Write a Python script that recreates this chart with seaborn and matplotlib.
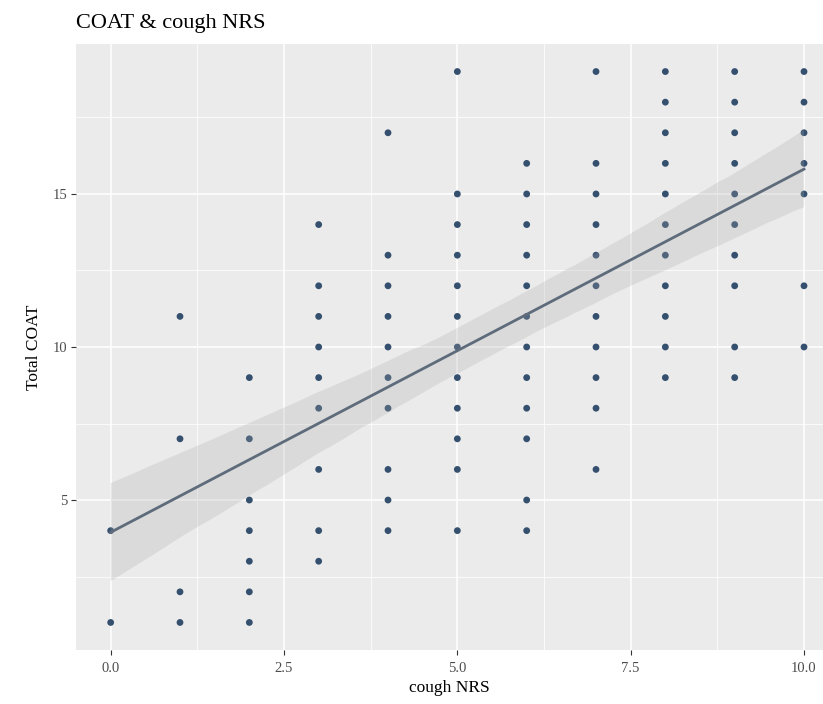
import matplotlib
matplotlib.use("Agg")
import matplotlib.pyplot as plt
import seaborn as sns
import pandas as pd
import numpy as np
from matplotlib.ticker import MultipleLocator

# cough NRS value -> list of Total COAT values observed
nrs_0 = [4, 1]
nrs_1 = [11, 7, 2, 1]
nrs_2 = [9, 7, 5, 4, 3, 2, 1]
nrs_3 = [14, 12, 11, 10, 9, 8, 6, 4, 3]
nrs_4 = [17, 13, 12, 11, 10, 9, 8, 6, 5, 4]
nrs_5 = [19, 15, 14, 13, 12, 11, 10, 9, 8, 7, 6, 4]
nrs_6 = [16, 15, 14, 13, 12, 11, 10, 9, 8, 7, 5, 4]
nrs_7 = [19, 16, 15, 14, 13, 12, 11, 10, 9, 8, 6]
nrs_8 = [19, 18, 17, 16, 15, 14, 13, 12, 11, 10, 9]
nrs_9 = [19, 18, 17, 16, 15, 14, 13, 12, 10, 9]
nrs_10 = [19, 18, 17, 16, 15, 12, 10]

groups = [nrs_0, nrs_1, nrs_2, nrs_3, nrs_4, nrs_5, nrs_6, nrs_7, nrs_8, nrs_9, nrs_10]
xs, ys = [], []
for nrs, vals in enumerate(groups):
    for v in vals:
        xs.append(nrs)
        ys.append(v)
df = pd.DataFrame({"cough NRS": xs, "Total COAT": ys})

x_ticks = [0.0, 2.5, 5.0, 7.5, 10.0]
x_tick_labels = ["0.0", "2.5", "5.0", "7.5", "10.0"]
y_ticks = [5, 10, 15]

W, H = 823, 704
fig = plt.figure(figsize=(W / 100, H / 100), dpi=100)
left, right, top, bottom = 76, 823, 44, 650
ax = fig.add_axes([left / W, 1 - bottom / H, (right - left) / W, (bottom - top) / H])

ax.set_facecolor("#EBEBEB")
for s in ax.spines.values():
    s.set_visible(False)

ax.set_xticks(x_ticks)
ax.set_xticklabels(x_tick_labels)
ax.set_yticks(y_ticks)
ax.xaxis.set_minor_locator(MultipleLocator(1.25))
ax.yaxis.set_minor_locator(MultipleLocator(2.5))
ax.grid(which="major", color="white", linewidth=1.1)
ax.grid(which="minor", color="white", linewidth=0.55)
ax.set_axisbelow(True)

sns.regplot(data=df, x="cough NRS", y="Total COAT", ax=ax, ci=95, seed=1,
            scatter_kws=dict(s=24, color="#34506E", edgecolor="none", alpha=1, zorder=3),
            line_kws=dict(color="#5E6B7B", linewidth=2.0, zorder=4))
# make band light grey
for coll in ax.collections[1:]:
    coll.set_facecolor("#A8A8A8")
    coll.set_alpha(0.25)
    coll.set_zorder(3.5)

ax.set_xlim(-0.5, (right - 110) / 69.4)
ax.set_ylim(0.1, 19.9)

serif = ["Liberation Serif", "DejaVu Serif"]
ax.tick_params(which="major", length=3.5, width=0.8, color="#333333", pad=3,
               labelsize=10.5, labelcolor="#4D4D4D")
ax.tick_params(axis="x", which="major", pad=5)
ax.tick_params(which="minor", length=0)
for lab in ax.get_xticklabels() + ax.get_yticklabels():
    lab.set_family(serif)

ax.set_xlabel("cough NRS", family=serif, fontsize=12.5, color="black", labelpad=4)
ax.set_ylabel("Total COAT", family=serif, fontsize=12.5, color="black", labelpad=7)

fig.text(76 / W, 1 - 28 / H, "COAT & cough NRS", family=serif, fontsize=16,
         ha="left", va="baseline", color="black")

fig.savefig("out.png", dpi=100, facecolor="white")
